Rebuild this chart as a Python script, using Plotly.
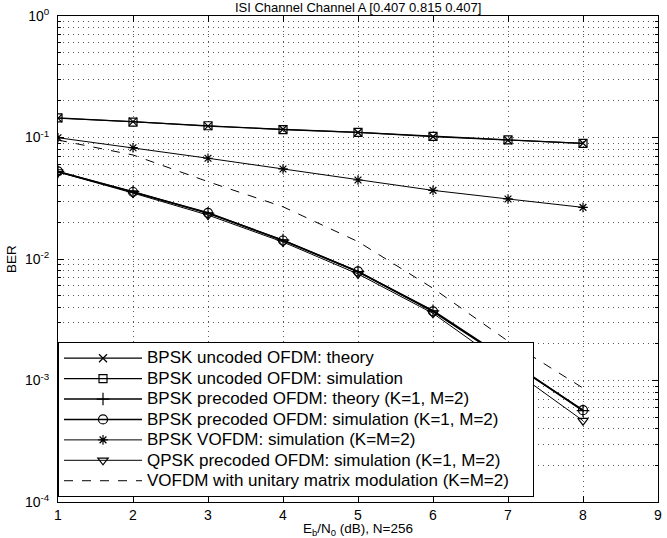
import plotly.graph_objects as go

# ---------------- data ----------------
ebn0 = [1, 2, 3, 4, 5, 6, 7, 8]

bpsk_uncoded_theory = [0.144, 0.135, 0.124, 0.117, 0.110, 0.1015, 0.095, 0.0896]
bpsk_uncoded_sim    = [0.145, 0.134, 0.125, 0.116, 0.110, 0.102, 0.0955, 0.0893]
bpsk_precoded_theory = [0.0523, 0.0358, 0.0238, 0.0143, 0.00786, 0.00375, 0.00148, 0.000564]
bpsk_precoded_sim    = [0.0526, 0.0356, 0.0240, 0.0142, 0.00790, 0.00370, 0.00146, 0.000570]
bpsk_vofdm_sim = [0.0996, 0.0824, 0.0675, 0.0551, 0.0447, 0.0367, 0.0312, 0.0266]
qpsk_precoded_sim = [0.0520, 0.0349, 0.0230, 0.0138, 0.00753, 0.00357, 0.00130, 0.000467]
vofdm_unitary = [0.0953, 0.0718, 0.0433, 0.0269, 0.0139, 0.00574, 0.00211, 0.000867]

names = [
    "BPSK uncoded OFDM: theory",
    "BPSK uncoded OFDM: simulation",
    "BPSK precoded OFDM: theory (K=1, M=2)",
    "BPSK precoded OFDM: simulation (K=1, M=2)",
    "BPSK VOFDM: simulation (K=M=2)",
    "QPSK precoded OFDM: simulation (K=1, M=2)",
    "VOFDM with unitary matrix modulation (K=M=2)",
]

y_tick_vals = [1e-4, 1e-3, 1e-2, 1e-1, 1]
y_tick_text = ["10<sup>-4</sup>", "10<sup>-3</sup>", "10<sup>-2</sup>", "10<sup>-1</sup>", "10<sup>0</sup>"]
y_minor_vals = [m * d for d in [1e-4, 1e-3, 1e-2, 1e-1] for m in range(2, 10)]
x_tick_vals = [1, 2, 3, 4, 5, 6, 7, 8, 9]

title_text = "ISI Channel Channel A [0.407 0.815 0.407]"
x_title = "E<sub>b</sub>/N<sub>0</sub> (dB), N=256"
y_title = "BER"

FONT = "Liberation Sans, Arial, Helvetica, sans-serif"

series = [
    (bpsk_uncoded_theory, "x-thin-open", 1.2, "solid", 8),
    (bpsk_uncoded_sim, "square-open", 1.2, "solid", 8),
    (bpsk_precoded_theory, "cross-thin-open", 1.6, "solid", 9),
    (bpsk_precoded_sim, "circle-open", 1.6, "solid", 9),
    (bpsk_vofdm_sim, "asterisk-open", 1.0, "solid", 8),
    (qpsk_precoded_sim, "triangle-down-open", 1.0, "solid", 9),
    (vofdm_unitary, None, 1.0, "dash", 8),
]

def legend_label(i, nm):
    pad = "\u00a0" * 4 if i == len(names) - 1 else ""
    return '<span style="font-size:17px">' + nm + pad + "</span>"

fig = go.Figure()
for i, ((vals, sym, lw, dash, ms), nm) in enumerate(zip(series, names)):
    label = legend_label(i, nm)
    if sym is None:
        fig.add_trace(go.Scatter(x=ebn0, y=vals, mode="lines", name=label,
                                 line=dict(color="black", width=lw, dash=dash)))
    else:
        fig.add_trace(go.Scatter(x=ebn0, y=vals, mode="lines+markers", name=label,
                                 line=dict(color="black", width=lw, dash=dash),
                                 marker=dict(symbol=sym, size=ms, color="black",
                                             line=dict(color="black", width=1.2))))

grid_col = "rgba(0,0,0,0.65)"
fig.update_layout(
    width=667, height=538,
    margin=dict(l=58, r=9, t=16, b=36, autoexpand=False),
    paper_bgcolor="white", plot_bgcolor="white",
    font=dict(family=FONT, size=14, color="black"),
    title=dict(text=title_text, x=0.537, xanchor="center", y=1 - 7 / 538, yanchor="middle",
               font=dict(size=13)),
    showlegend=True,
    legend=dict(x=0, y=(502 - 342) / 486, xanchor="left", yanchor="top",
                bgcolor="white", bordercolor="black", borderwidth=1,
                font=dict(size=13.4), itemwidth=78, tracegroupgap=0,
                traceorder="normal"),
    xaxis=dict(range=[1, 9], tickmode="array", tickvals=x_tick_vals,
               showline=True, linecolor="black", linewidth=1, mirror="ticks",
               ticks="inside", ticklen=6, tickcolor="black",
               showgrid=True, gridcolor=grid_col, griddash="1px,4px", gridwidth=1,
               zeroline=False, ticklabelstandoff=0, automargin=False,
               title=dict(text=x_title, standoff=4, font=dict(size=13.5)),
               tickfont=dict(size=14)),
    yaxis=dict(type="log", range=[-4, 0], tickmode="array", tickvals=y_tick_vals,
               ticktext=y_tick_text,
               showline=True, linecolor="black", linewidth=1, mirror="ticks",
               ticks="inside", ticklen=6, tickcolor="black",
               showgrid=True, gridcolor=grid_col, griddash="1px,4px", gridwidth=1,
               zeroline=False, ticklabelstandoff=5, automargin=False,
               minor=dict(tickmode="array", tickvals=y_minor_vals, ticks="inside",
                          ticklen=3, tickcolor="black", showgrid=True,
                          gridcolor=grid_col, griddash="1px,4px", gridwidth=1),
               title=dict(text=y_title, standoff=5, font=dict(size=13.5)),
               tickfont=dict(size=14)),
)

fig.write_html("out.html")
